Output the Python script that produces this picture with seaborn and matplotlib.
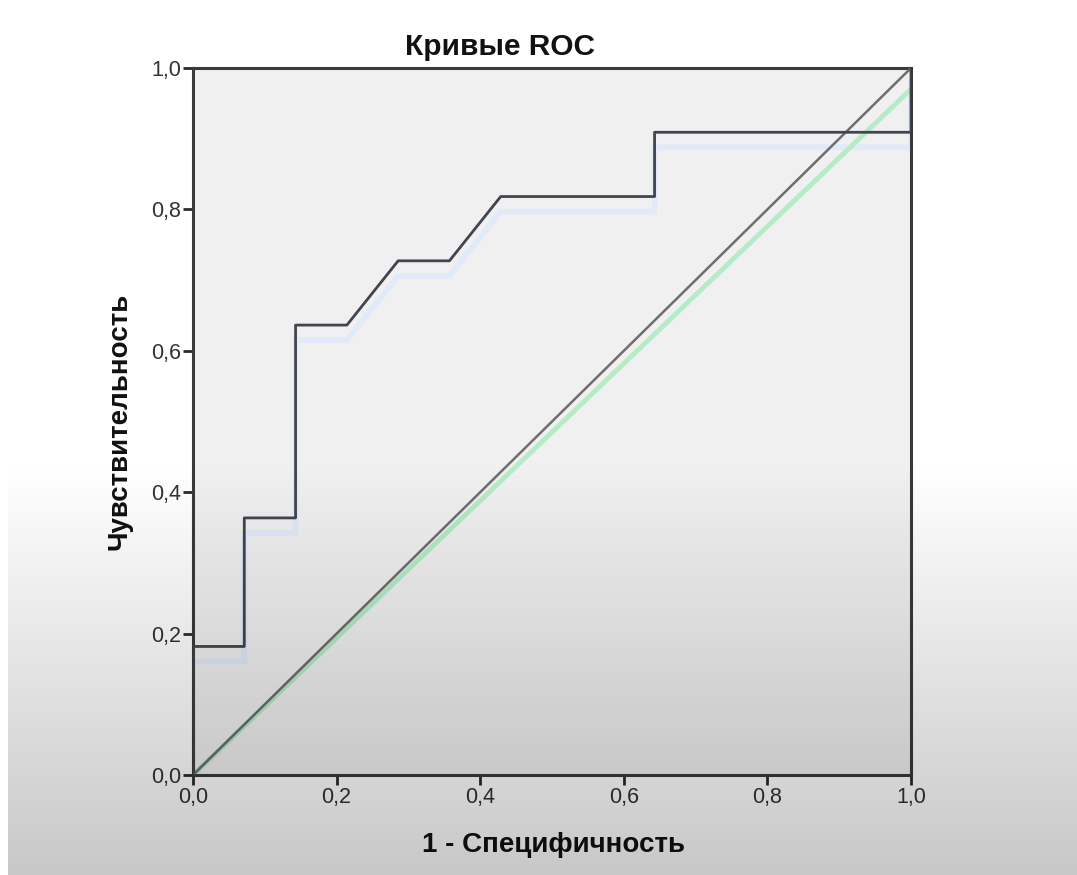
import numpy as np
import matplotlib
matplotlib.use("Agg")
import matplotlib.pyplot as plt
import matplotlib.transforms as mtransforms
import seaborn as sns
import pandas as pd

# ---- data ----
fpr = [0.0, 0.0, 1/14, 1/14, 2/14, 2/14, 3/14, 4/14, 5/14, 6/14, 9/14, 9/14, 1.0, 1.0]
tpr = [0.0, 2/11, 2/11, 4/11, 4/11, 7/11, 7/11, 8/11, 8/11, 9/11, 9/11, 10/11, 10/11, 1.0]
diag_x = [0.0, 1.0]
diag_y = [0.0, 1.0]
ref_shadow_y = [0.0, 0.97]
ticks = [0.0, 0.2, 0.4, 0.6, 0.8, 1.0]
tick_labels = ["0,0", "0,2", "0,4", "0,6", "0,8", "1,0"]
title = "Кривые ROC"
xlabel = "1 - Специфичность"
ylabel = "Чувствительность"

sns.set_theme(style="white")
plt.rcParams['font.family'] = ['Liberation Sans', 'DejaVu Sans']

W, H = 1077, 875
fig = plt.figure(figsize=(W / 100, H / 100), dpi=100)
fig.patch.set_facecolor("white")
ax = fig.add_axes([193 / W, 1 - 775 / H, (911 - 193) / W, (775 - 68) / H])
ax.set_facecolor("#f0f0f0")

roc = pd.DataFrame({"fpr": fpr, "tpr": tpr})
diag = pd.DataFrame({"x": diag_x, "y": diag_y, "ys": ref_shadow_y})

# pale shadow of the ROC curve
shadow = mtransforms.offset_copy(ax.transData, fig=fig, x=0, y=-15, units="dots")
ax.plot(roc["fpr"], roc["tpr"], color="#e0eaf8", lw=4, transform=shadow,
        zorder=1, solid_joinstyle="miter")
# green reference shadow
sns.lineplot(data=diag, x="x", y="ys", ax=ax, color="#b5ebc5", lw=3.5,
             sort=False, estimator=None, zorder=2)
# diagonal reference line
sns.lineplot(data=diag, x="x", y="y", ax=ax, color="#6e6e6e", lw=1.8,
             sort=False, estimator=None, zorder=3)
# ROC curve
sns.lineplot(data=roc, x="fpr", y="tpr", ax=ax, color="#42454f", lw=2.0,
             sort=False, estimator=None, zorder=4)

ax.set_xlim(0, 1)
ax.set_ylim(0, 1)
ax.set_xticks(ticks)
ax.set_xticklabels(tick_labels)
ax.set_yticks(ticks)
ax.set_yticklabels(tick_labels)
ax.tick_params(axis="both", which="major", direction="out", length=7.5, width=2,
               color="#2a2a2a", labelsize=15.5, labelcolor="#333333",
               bottom=True, left=True, top=False, right=False, pad=1)
for s in ax.spines.values():
    s.set_color("#3a3a3a")
    s.set_linewidth(2.2)
    s.set_visible(True)

ax.set_title(title, fontsize=21.5, fontweight="bold", color="#111111",
             x=(500 - 193) / (911 - 193), pad=9)
ax.set_xlabel(xlabel, fontsize=20, fontweight="bold", color="#111111")
ax.set_ylabel(ylabel, fontsize=20, fontweight="bold", color="#111111")
ax.xaxis.set_label_coords((553 - 193) / 718, (775 - 845) / 707)
ax.xaxis.label.set_va("center")
ax.yaxis.set_label_coords((120 - 193) / 718, 0.5)
ax.yaxis.label.set_va("center")

# screenshot-like gray gradient over the lower part
ov = fig.add_axes([0, 0, 1, 1], zorder=10)
ov.axis("off")
rows = np.arange(H)
alpha = np.clip((rows - 460) / (H - 460), 0, 1) * 0.22
img = np.zeros((H, W, 4))
img[:, :, 3] = alpha[:, None]
img[:, :8, 3] = 0
ov.imshow(img, aspect="auto", extent=[0, 1, 0, 1], origin="upper")
ov.set_xlim(0, 1)
ov.set_ylim(0, 1)

fig.savefig("out.png", dpi=100)
